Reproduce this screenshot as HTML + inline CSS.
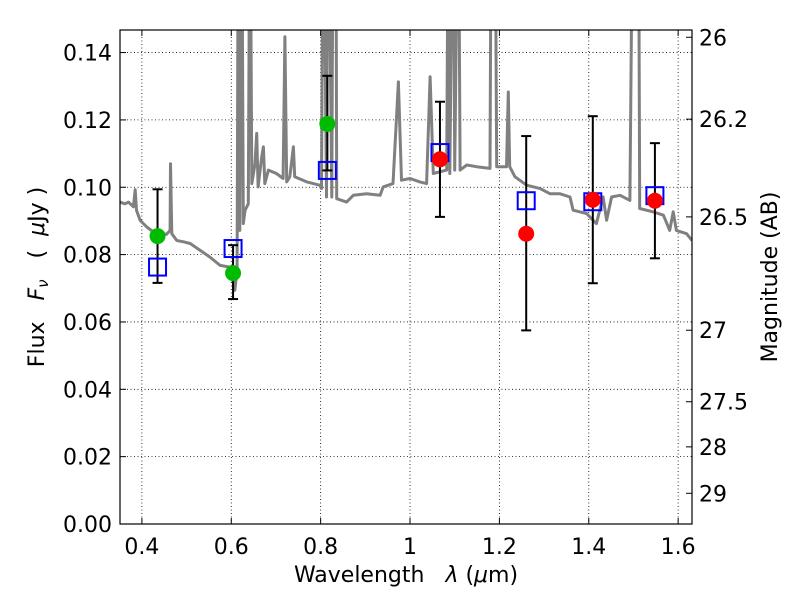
<!DOCTYPE html>
<html><head><meta charset="utf-8"><style>
body{margin:0;background:#fff;}
svg text{font-family:"DejaVu Sans","Liberation Sans",sans-serif;fill:#000;white-space:pre;}
</style></head><body>
<svg id="chart" width="800" height="600" viewBox="0 0 800 600">
<g id="grid"></g>
<g id="spec"></g>
<g id="marks"></g>
<g id="axes"></g>
<text x="406" y="582" font-size="22" text-anchor="middle">Wavelength   <tspan font-style="italic">λ</tspan> (<tspan font-style="italic">μ</tspan>m)</text>
<text transform="translate(44,277) rotate(-90)" font-size="22" text-anchor="middle">Flux   <tspan font-style="italic">F</tspan><tspan font-style="italic" font-size="15" dy="4">ν</tspan><tspan dy="-4">   (  </tspan><tspan font-style="italic">μ</tspan>Jy )</text>
<text transform="translate(777,277) rotate(-90)" font-size="22" text-anchor="middle">Magnitude (AB)</text>
</svg>
<script>
const xTicks=[0.4,0.6,0.8,1.0,1.2,1.4,1.6];
const xTickLabels=["0.4","0.6","0.8","1","1.2","1.4","1.6"];
const yTicks=[0,0.02,0.04,0.06,0.08,0.10,0.12,0.14];
const yTickLabels=["0.00","0.02","0.04","0.06","0.08","0.10","0.12","0.14"];
const magTicks=[26,26.2,26.5,27,27.5,28,29];
const magTickLabels=["26","26.2","26.5","27","27.5","28","29"];
const specLam=[0.351,0.362,0.370,0.381,0.385,0.388,0.396,0.411,0.426,0.455,0.463,0.464,0.467,0.478,0.493,0.508,0.530,0.552,0.575,0.597,0.608,0.613,0.616,0.619,0.623,0.627,0.631,0.638,0.642,0.646,0.653,0.657,0.660,0.668,0.672,0.675,0.683,0.701,0.716,0.720,0.724,0.731,0.739,0.742,0.769,0.798,0.802,0.806,0.813,0.817,0.825,0.828,0.834,0.836,0.858,0.873,0.903,0.933,0.940,0.962,0.974,0.981,1.000,1.022,1.037,1.045,1.052,1.082,1.086,1.089,1.097,1.100,1.108,1.112,1.127,1.149,1.179,1.182,1.190,1.194,1.216,1.220,1.223,1.235,1.261,1.291,1.313,1.335,1.358,1.365,1.395,1.417,1.432,1.440,1.451,1.470,1.492,1.499,1.511,1.514,1.544,1.567,1.581,1.589,1.596,1.619,1.631];
const specFlux=[0.0956,0.0951,0.0956,0.0942,0.0993,0.0932,0.0902,0.0882,0.0867,0.0860,0.0872,0.1070,0.0862,0.0842,0.0838,0.0833,0.0813,0.0793,0.0768,0.0763,0.0694,0.0753,0.2,0.0872,0.2,0.0892,0.0932,0.0951,0.2,0.1011,0.1070,0.1160,0.1001,0.1090,0.1120,0.1011,0.1051,0.1041,0.1026,0.1447,0.1016,0.1031,0.1120,0.1031,0.1016,0.1006,0.0996,0.2,0.0971,0.2,0.0971,0.2,0.2,0.0966,0.0956,0.0976,0.0981,0.0976,0.1001,0.1011,0.1313,0.1021,0.1026,0.1016,0.1011,0.1328,0.1041,0.1051,0.2,0.1041,0.2,0.1051,0.2,0.1051,0.1066,0.1061,0.1056,0.2,0.2,0.1061,0.1061,0.1283,0.1061,0.1031,0.1006,0.0996,0.0981,0.0981,0.0971,0.0932,0.0922,0.0892,0.0971,0.0902,0.0971,0.0976,0.0961,0.2,0.2,0.0937,0.0927,0.0917,0.0872,0.0927,0.0872,0.0862,0.0842];
const greenLam=[0.435,0.604,0.815];
const greenFlux=[0.0855,0.0745,0.1188];
const greenHi=[0.0994,0.0828,0.1331];
const greenLo=[0.0716,0.0668,0.1050];
const redLam=[1.067,1.260,1.409,1.548];
const redFlux=[0.1083,0.0862,0.0963,0.0960];
const redHi=[0.1254,0.1152,0.1211,0.1131];
const redLo=[0.0912,0.0575,0.0715,0.0789];
const modelLam=[0.435,0.604,0.815,1.067,1.260,1.409,1.548];
const modelFlux=[0.0763,0.0818,0.1050,0.1103,0.0960,0.0957,0.0975];

const L=120,R=692,T=30,B=524;
const xMin=0.351,xMax=1.631,yMin=0,yMax=0.1467;
const sx=v=>L+(v-xMin)/(xMax-xMin)*(R-L);
const sy=v=>B-(v-yMin)/(yMax-yMin)*(B-T);
const magToFlux=m=>Math.pow(10,(23.9-m)/2.5);
const NS="http://www.w3.org/2000/svg";
function mk(tag,attrs,parent){const e=document.createElementNS(NS,tag);for(const k in attrs)e.setAttribute(k,attrs[k]);parent.appendChild(e);return e;}
const grid=document.getElementById('grid'),spec=document.getElementById('spec'),marks=document.getElementById('marks'),axes=document.getElementById('axes');
const svg=document.getElementById('chart');
const defs=mk('defs',{},svg);
const cp=mk('clipPath',{id:'clip'},defs);
mk('rect',{x:L,y:T,width:R-L,height:B-T},cp);

xTicks.forEach((v,i)=>{
  const x=sx(v);
  const g=mk('line',{x1:x,x2:x,y1:T,y2:B,stroke:'#000','stroke-width':0.8,'stroke-dasharray':'1,2.5'},grid);
  
  
  mk('line',{x1:x,x2:x,y1:B,y2:B-6,stroke:'#000','stroke-width':1},axes);
  mk('line',{x1:x,x2:x,y1:T,y2:T+6,stroke:'#000','stroke-width':1},axes);
  const t=mk('text',{x:x,y:554,'font-size':22,'text-anchor':'middle'},axes);
  t.textContent=xTickLabels[i];
  
  
});
yTicks.forEach((v,i)=>{
  const y=sy(v);
  const g=mk('line',{x1:L,x2:R,y1:y,y2:y,stroke:'#000','stroke-width':0.8,'stroke-dasharray':'1,2.5'},grid);
  
  
  mk('line',{x1:L,x2:L+6,y1:y,y2:y,stroke:'#000','stroke-width':1},axes);
  const t=mk('text',{x:112,y:y+8,'font-size':22,'text-anchor':'end'},axes);
  t.textContent=yTickLabels[i];
  
  
});
magTicks.forEach((m,i)=>{
  const y=sy(magToFlux(m));
  mk('line',{x1:R-6,x2:R,y1:y,y2:y,stroke:'#000','stroke-width':1},axes);
  const t=mk('text',{x:699,y:y+8,'font-size':22,'text-anchor':'start'},axes);
  t.textContent=magTickLabels[i];
  
  
});
const pts=specLam.map((l,i)=>sx(l).toFixed(1)+','+sy(specFlux[i]).toFixed(1)).join(' ');
const pl=mk('polyline',{points:pts,fill:'none',stroke:'#808080','stroke-width':3,'stroke-linejoin':'round','clip-path':'url(#clip)'},spec);


function errbar(l,lo,hi){
  const x=sx(l);
  const g=mk('g',{},marks);
  
  
  mk('line',{x1:x,x2:x,y1:sy(hi),y2:sy(lo),stroke:'#000','stroke-width':2},g);
  mk('line',{x1:x-5,x2:x+5,y1:sy(hi),y2:sy(hi),stroke:'#000','stroke-width':2},g);
  mk('line',{x1:x-5,x2:x+5,y1:sy(lo),y2:sy(lo),stroke:'#000','stroke-width':2},g);
}
greenLam.forEach((l,i)=>errbar(l,greenLo[i],greenHi[i]));
redLam.forEach((l,i)=>errbar(l,redLo[i],redHi[i]));
modelLam.forEach((l,i)=>{
  const r=mk('rect',{x:sx(l)-8.5,y:sy(modelFlux[i])-8.5,width:17,height:17,fill:'none',stroke:'#0000ff','stroke-width':2},marks);
  
  
});
greenLam.forEach((l,i)=>{
  const c=mk('circle',{cx:sx(l),cy:sy(greenFlux[i]),r:8,fill:'#00bb00'},marks);
  
  
});
redLam.forEach((l,i)=>{
  const c=mk('circle',{cx:sx(l),cy:sy(redFlux[i]),r:8,fill:'#ff0000'},marks);
  
  
});
const frame=mk('rect',{x:L,y:T,width:R-L,height:B-T,fill:'none',stroke:'#000','stroke-width':1.2},axes);


</script>
</body></html>
